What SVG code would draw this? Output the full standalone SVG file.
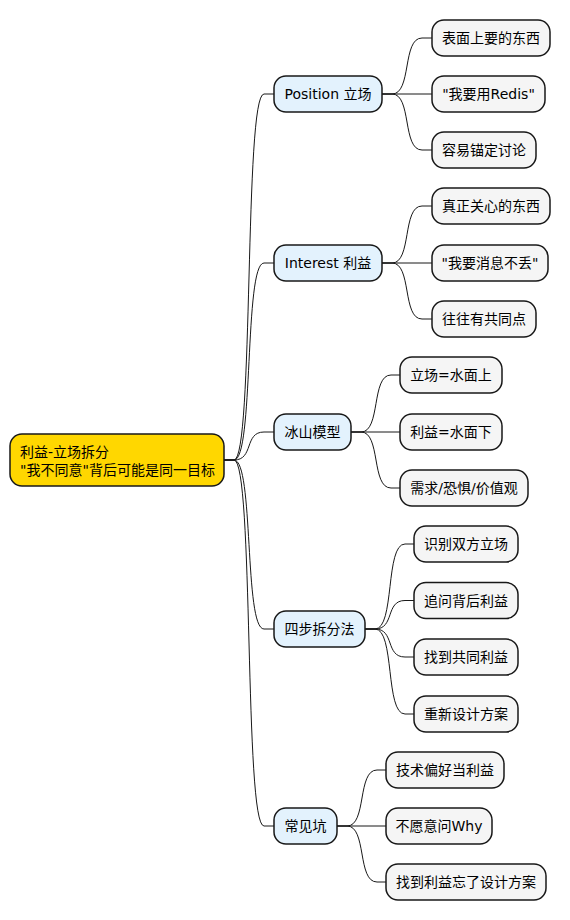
<svg xmlns="http://www.w3.org/2000/svg" width="570" height="920" viewBox="0 0 570 920">
<style>
.n rect{stroke:#181818;stroke-width:1.5}
.root rect{fill:#FFD700}
.br rect{fill:#E3F2FD}
.lf rect{fill:#F5F5F5}
text{font-family:"DejaVu Sans","Noto Sans CJK SC",sans-serif;font-size:14px;fill:#000}
.c{text-anchor:middle}
#links path{fill:none;stroke:#181818;stroke-width:1}
</style>
<rect width="570" height="920" fill="#FFFFFF"/>
<g id="links">
<path d="M224,460 L234,460 C254,460 244,94 264,94 L274,94"/>
<path d="M224,460 L234,460 C254,460 244,263 264,263 L274,263"/>
<path d="M224,460 L234,460 C254,460 244,432 264,432 L274,432"/>
<path d="M224,460 L234,460 C254,460 244,629 264,629 L274,629"/>
<path d="M224,460 L234,460 C254,460 244,826 264,826 L274,826"/>
<path d="M382,94 L392,94 C412,94 402,38 422,38 L432,38"/>
<path d="M382,94 L432,94"/>
<path d="M382,94 L392,94 C412,94 402,150 422,150 L432,150"/>
<path d="M382,263 L392,263 C412,263 402,206 422,206 L432,206"/>
<path d="M382,263 L432,263"/>
<path d="M382,263 L392,263 C412,263 402,319 422,319 L432,319"/>
<path d="M351,432 L361,432 C381,432 371,375 391,375 L400,375"/>
<path d="M351,432 L400,432"/>
<path d="M351,432 L361,432 C381,432 371,488 391,488 L400,488"/>
<path d="M365,629 L375,629 C395,629 385,544 405,544 L414,544"/>
<path d="M365,629 L375,629 C395,629 385,600.5 405,600.5 L414,600.5"/>
<path d="M365,629 L375,629 C395,629 385,657 405,657 L414,657"/>
<path d="M365,629 L375,629 C395,629 385,714 405,714 L414,714"/>
<path d="M337,826 L347,826 C367,826 357,770 377,770 L386,770"/>
<path d="M337,826 L386,826"/>
<path d="M337,826 L347,826 C367,826 357,882 377,882 L386,882"/>
</g>
<g id="root" class="n root"><rect x="10" y="434" width="214" height="52" rx="12"/><text x="20" y="457">利益-立场拆分</text><text x="20" y="475">"我不同意"背后可能是同一目标</text></g>
<g id="position" class="n br"><rect x="274" y="76" width="108" height="36" rx="12"/><text class="c" x="328" y="99">Position 立场</text></g>
<g id="interest" class="n br"><rect x="274" y="245" width="108" height="36" rx="12"/><text class="c" x="328" y="268">Interest 利益</text></g>
<g id="iceberg" class="n br"><rect x="274" y="414" width="77" height="36" rx="12"/><text class="c" x="312.5" y="437">冰山模型</text></g>
<g id="fourstep" class="n br"><rect x="274" y="611" width="91" height="36" rx="12"/><text class="c" x="319.5" y="634">四步拆分法</text></g>
<g id="pitfalls" class="n br"><rect x="274" y="808" width="63" height="36" rx="12"/><text class="c" x="305.5" y="831">常见坑</text></g>
<g id="l1" class="n lf"><rect x="432" y="20" width="118" height="36" rx="12"/><text class="c" x="491" y="43">表面上要的东西</text></g>
<g id="l2" class="n lf"><rect x="432" y="76" width="113" height="36" rx="12"/><text class="c" x="488.5" y="99">"我要用Redis"</text></g>
<g id="l3" class="n lf"><rect x="432" y="132" width="104" height="36" rx="12"/><text class="c" x="484" y="155">容易锚定讨论</text></g>
<g id="l4" class="n lf"><rect x="432" y="188" width="118" height="36" rx="12"/><text class="c" x="491" y="211">真正关心的东西</text></g>
<g id="l5" class="n lf"><rect x="432" y="245" width="116" height="36" rx="12"/><text class="c" x="490" y="268">"我要消息不丢"</text></g>
<g id="l6" class="n lf"><rect x="432" y="301" width="104" height="36" rx="12"/><text class="c" x="484" y="324">往往有共同点</text></g>
<g id="l7" class="n lf"><rect x="400" y="357" width="102" height="36" rx="12"/><text class="c" x="451" y="380">立场=水面上</text></g>
<g id="l8" class="n lf"><rect x="400" y="414" width="102" height="36" rx="12"/><text class="c" x="451" y="437">利益=水面下</text></g>
<g id="l9" class="n lf"><rect x="400" y="470" width="128" height="36" rx="12"/><text class="c" x="464" y="493">需求/恐惧/价值观</text></g>
<g id="l10" class="n lf"><rect x="414" y="526" width="104" height="36" rx="12"/><text class="c" x="466" y="549">识别双方立场</text></g>
<g id="l11" class="n lf"><rect x="414" y="582.5" width="104" height="36" rx="12"/><text class="c" x="466" y="605.5">追问背后利益</text></g>
<g id="l12" class="n lf"><rect x="414" y="639" width="104" height="36" rx="12"/><text class="c" x="466" y="662">找到共同利益</text></g>
<g id="l13" class="n lf"><rect x="414" y="696" width="104" height="36" rx="12"/><text class="c" x="466" y="719">重新设计方案</text></g>
<g id="l14" class="n lf"><rect x="386" y="752" width="118" height="36" rx="12"/><text class="c" x="445" y="775">技术偏好当利益</text></g>
<g id="l15" class="n lf"><rect x="386" y="808" width="106" height="36" rx="12"/><text class="c" x="439" y="831">不愿意问Why</text></g>
<g id="l16" class="n lf"><rect x="386" y="864" width="160" height="36" rx="12"/><text class="c" x="466" y="887">找到利益忘了设计方案</text></g>
</svg>
